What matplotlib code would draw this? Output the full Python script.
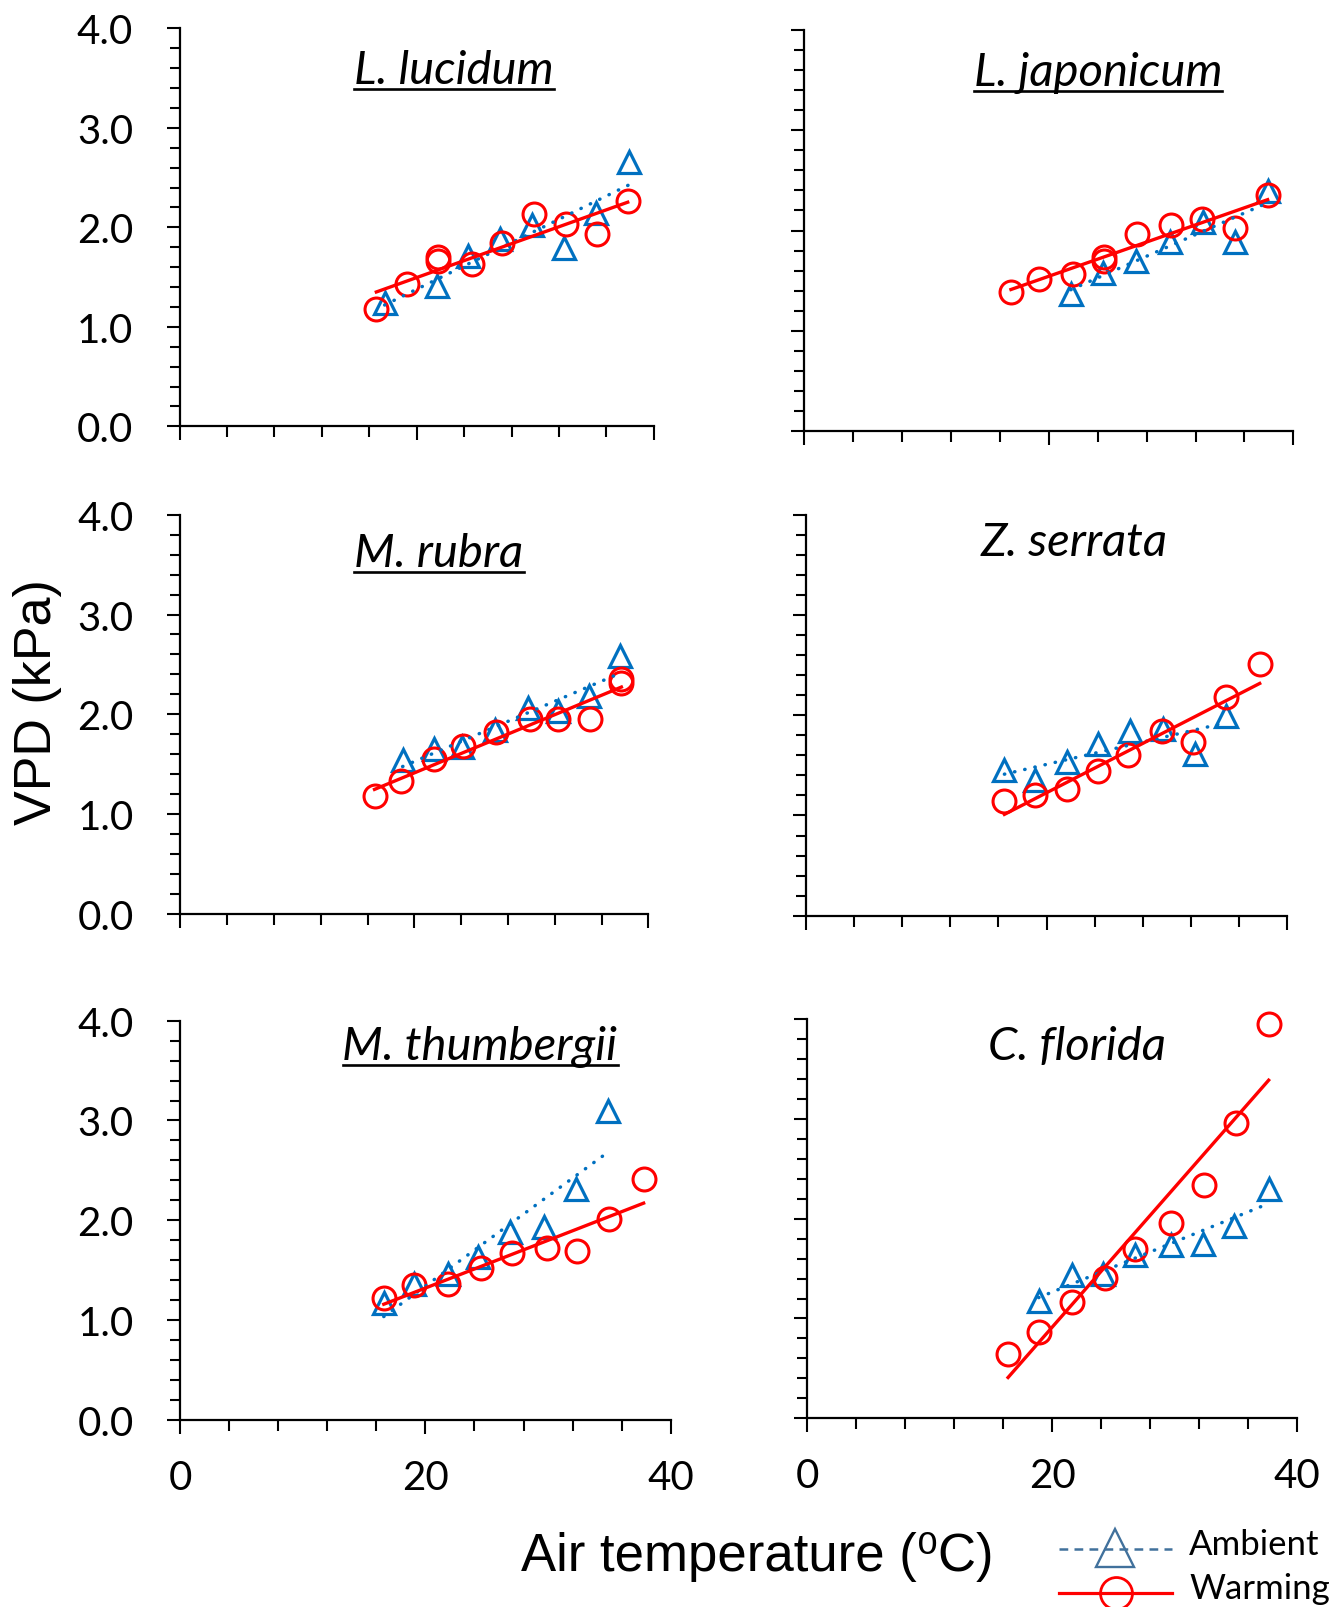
import numpy as np
import matplotlib
matplotlib.use("Agg")
import matplotlib.pyplot as plt
from matplotlib.lines import Line2D
from matplotlib.ticker import MultipleLocator, FormatStrFormatter

# ── Data (air temperature, VPD) ─────────────────────────────
species = ["L. lucidum", "L. japonicum", "M. rubra", "Z. serrata", "M. thumbergii", "C. florida"]
underlined = [True, True, True, False, True, False]

lucidum_amb_t = [17.3, 21.7, 24.3, 27.0, 29.7, 32.4, 35.1, 37.9]
lucidum_amb_v = [1.24, 1.41, 1.71, 1.88, 2.02, 1.79, 2.14, 2.66]
lucidum_warm_t = [16.6, 19.2, 21.8, 21.8, 24.7, 27.2, 29.9, 32.6, 35.2, 37.8]
lucidum_warm_v = [1.18, 1.43, 1.70, 1.66, 1.63, 1.84, 2.13, 2.03, 1.93, 2.26]

japonicum_amb_t = [21.8, 24.4, 27.1, 29.9, 32.6, 35.2, 37.9]
japonicum_amb_v = [1.37, 1.58, 1.70, 1.89, 2.08, 1.89, 2.39]
japonicum_warm_t = [16.9, 19.2, 22.0, 24.5, 24.5, 27.2, 30.0, 32.5, 35.2, 37.9]
japonicum_warm_v = [1.39, 1.52, 1.57, 1.74, 1.70, 1.97, 2.05, 2.11, 2.02, 2.35]

rubra_amb_t = [19.0, 21.7, 24.1, 26.9, 29.7, 32.3, 34.9, 37.6]
rubra_amb_v = [1.54, 1.65, 1.67, 1.84, 2.06, 2.03, 2.18, 2.58]
rubra_warm_t = [16.6, 18.9, 21.7, 24.2, 27.0, 29.9, 32.3, 35.0, 37.7, 37.7]
rubra_warm_v = [1.18, 1.33, 1.55, 1.68, 1.82, 1.95, 1.95, 1.95, 2.35, 2.31]

serrata_amb_t = [16.5, 19.0, 21.7, 24.3, 26.9, 29.7, 32.3, 34.9]
serrata_amb_v = [1.45, 1.35, 1.53, 1.71, 1.84, 1.86, 1.61, 1.99]
serrata_warm_t = [16.5, 19.0, 21.7, 24.3, 26.8, 29.6, 32.2, 34.9, 37.7]
serrata_warm_v = [1.14, 1.20, 1.26, 1.44, 1.60, 1.84, 1.73, 2.18, 2.51]

thumbergii_amb_t = [16.6, 19.1, 21.8, 24.3, 26.9, 29.7, 32.3, 34.9]
thumbergii_amb_v = [1.17, 1.36, 1.46, 1.63, 1.88, 1.93, 2.31, 3.09]
thumbergii_warm_t = [16.6, 19.1, 21.8, 24.5, 27.1, 29.9, 32.4, 35.0, 37.8]
thumbergii_warm_v = [1.22, 1.35, 1.36, 1.52, 1.67, 1.72, 1.69, 2.01, 2.41]

florida_amb_t = [18.9, 21.6, 24.2, 26.8, 29.7, 32.3, 34.9, 37.7]
florida_amb_v = [1.18, 1.44, 1.45, 1.64, 1.74, 1.75, 1.93, 2.30]
florida_warm_t = [16.4, 18.9, 21.6, 24.3, 26.8, 29.7, 32.4, 35.0, 37.7]
florida_warm_v = [0.64, 0.86, 1.17, 1.41, 1.70, 1.96, 2.34, 2.96, 3.95]

series = [
    (lucidum_amb_t, lucidum_amb_v, lucidum_warm_t, lucidum_warm_v),
    (japonicum_amb_t, japonicum_amb_v, japonicum_warm_t, japonicum_warm_v),
    (rubra_amb_t, rubra_amb_v, rubra_warm_t, rubra_warm_v),
    (serrata_amb_t, serrata_amb_v, serrata_warm_t, serrata_warm_v),
    (thumbergii_amb_t, thumbergii_amb_v, thumbergii_warm_t, thumbergii_warm_v),
    (florida_amb_t, florida_amb_v, florida_warm_t, florida_warm_v),
]

# ── Layout (pixels of the 1331x1608 canvas) ─────────────────
W, H = 1331, 1608
BLUE = "#0070C0"
RED = "#FF0000"
TICK_FONT = "Lato"
ARIAL = ["Liberation Sans", "DejaVu Sans"]

# x0, x1, y_top, y_bottom of every plot area
boxes = [
    (179.5, 653.8, 29.3, 427.3),
    (804.4, 1293.3, 31.0, 432.0),
    (180.3, 648.3, 515.7, 915.0),
    (805.7, 1287.4, 515.7, 916.7),
    (180.3, 670.6, 1021.7, 1420.7),
    (807.4, 1296.8, 1020.0, 1419.3),
]
# title centre x, baseline y
title_pos = [(454, 84), (1098, 86), (439, 567), (1074, 556), (480, 1060), (1077, 1060)]

fig = plt.figure(figsize=(W / 100, H / 100), dpi=100)

titles = []
for i, (box, sp, ser) in enumerate(zip(boxes, species, series)):
    x0, x1, yt, yb = box
    ax = fig.add_axes([x0 / W, 1 - yb / H, (x1 - x0) / W, (yb - yt) / H])
    at, av, wt, wv = ser

    ax.plot(at, av, ls="none", marker="^", ms=16, mfc="none", mec=BLUE, mew=2.3,
            clip_on=False, zorder=3)
    ax.plot(wt, wv, ls="none", marker="o", ms=16.5, mfc="none", mec=RED, mew=2.2,
            clip_on=False, zorder=3)

    # linear trend lines
    ca = np.polyfit(at, av, 1)
    xs = np.array([min(at), max(at)])
    ax.plot(xs, np.polyval(ca, xs), color=BLUE, lw=2.5, dashes=(0.1, 2.9),
            dash_capstyle="round", zorder=4)
    cw = np.polyfit(wt, wv, 1)
    xs = np.array([min(wt), max(wt)])
    ax.plot(xs, np.polyval(cw, xs), color=RED, lw=2.4, zorder=5)

    ax.set_xlim(0, 40)
    ax.set_ylim(0, 4)
    for s in ["top", "right"]:
        ax.spines[s].set_visible(False)
    for s in ["left", "bottom"]:
        ax.spines[s].set_linewidth(1.6)
    ax.patch.set_visible(False)

    ax.xaxis.set_major_locator(MultipleLocator(20))
    ax.xaxis.set_minor_locator(MultipleLocator(4))
    ax.yaxis.set_major_locator(MultipleLocator(1))
    ax.yaxis.set_minor_locator(MultipleLocator(0.2))
    ax.yaxis.set_major_formatter(FormatStrFormatter("%.1f"))
    ax.tick_params(axis="x", which="major", length=10, width=1.5, pad=18)
    ax.tick_params(axis="x", which="minor", length=8, width=1.5)
    ax.tick_params(axis="y", which="major", length=9.5, width=1.5, pad=24)
    ax.tick_params(axis="y", which="minor", length=7, width=1.5)
    ax.tick_params(labelsize=29)
    for lab in ax.get_xticklabels() + ax.get_yticklabels():
        lab.set_family(TICK_FONT)

    if i % 2 == 1:
        ax.tick_params(axis="y", labelleft=False)
    if i < 4:
        ax.tick_params(axis="x", labelbottom=False)

    cx, by = title_pos[i]
    t = fig.text(cx / W, 1 - by / H, sp, ha="center", va="baseline",
                 fontsize=34, style="italic", family=TICK_FONT)
    titles.append((t, by))

# underline the titles that are underlined in the original
fig.canvas.draw()
r = fig.canvas.get_renderer()
for (t, by), ul in zip(titles, underlined):
    if not ul:
        continue
    bb = t.get_window_extent(renderer=r)
    yy = 1 - (by + 6) / H
    fig.add_artist(Line2D([bb.x0 / W, bb.x1 / W], [yy, yy], color="black", lw=1.9,
                          transform=fig.transFigure))

fig.text(38 / W, 1 - 702 / H, "VPD (kPa)", rotation=90, ha="center", va="center",
         fontsize=37.5, family=ARIAL)
fig.text(757 / W, 1 - 1557 / H, "Air temperature (\u2070C)", ha="center", va="center",
         fontsize=38, family=ARIAL)

# legend
LEG_BLUE = "#41719C"
fig.add_artist(Line2D([1059 / W, 1172 / W], [1 - 1550 / H] * 2, color=LEG_BLUE, lw=1.8,
                      dashes=(3.5, 2.5), transform=fig.transFigure))
fig.add_artist(Line2D([1115 / W], [1 - 1549 / H], ls="none", marker="^", ms=27, mfc="none",
                      mec=LEG_BLUE, mew=1.7, transform=fig.transFigure))
fig.add_artist(Line2D([1059 / W, 1172 / W], [1 - 1594 / H] * 2, color=RED, lw=2.3,
                      transform=fig.transFigure))
fig.add_artist(Line2D([1116 / W], [1 - 1594 / H], ls="none", marker="o", ms=23, mfc="none",
                      mec=RED, mew=2.0, transform=fig.transFigure))
fig.text(1189 / W, 1 - 1555 / H, "Ambient", ha="left", va="baseline", fontsize=25,
         family=TICK_FONT)
fig.text(1189 / W, 1 - 1599 / H, "Warming", ha="left", va="baseline", fontsize=25,
         family=TICK_FONT)

fig.savefig("out.png", dpi=100)
plt.close(fig)
